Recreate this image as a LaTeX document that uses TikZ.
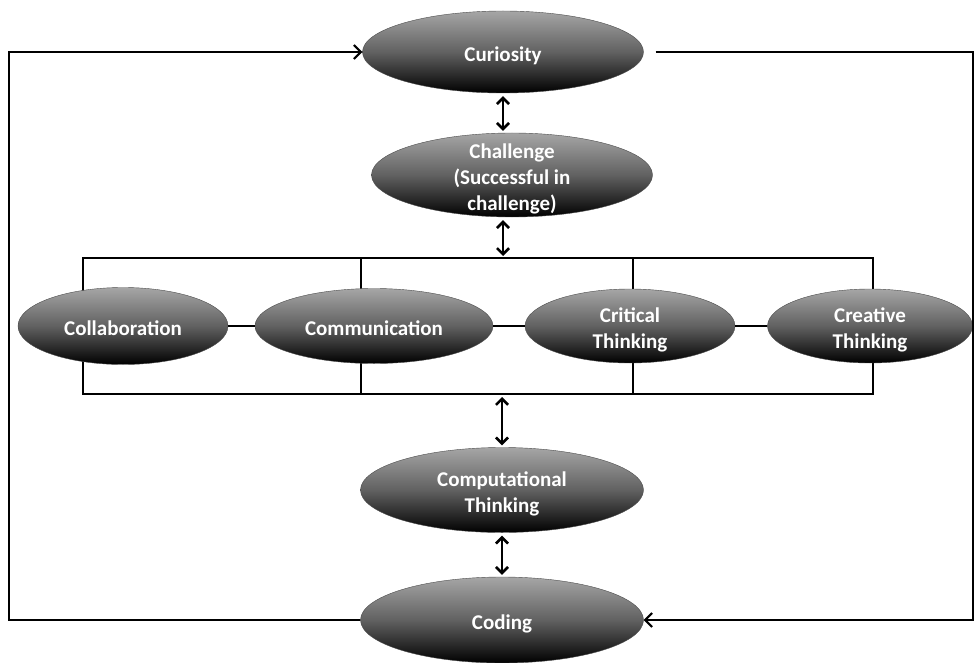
\documentclass[tikz,border=0pt]{standalone}
\usepackage{fontspec}
\setmainfont{Carlito}
\usetikzlibrary{shapes.geometric,arrows.meta}
\newcommand{\elltext}[1]{\raisebox{-9pt}[0pt][0pt]{\begin{tabular}{@{}c@{}}#1\end{tabular}}}

\begin{document}
\begin{tikzpicture}[x=1pt,y=-1pt,
    bub/.style={ellipse,draw=black!70,thin,inner sep=0pt,top color=black!35,
      bottom color=black,middle color=black!62,text=white,
      font=\bfseries\fontsize{21}{26}\selectfont},
    link/.style={line width=2pt},
    dbl/.style={line width=2.6pt,{Straight Barb[length=6pt]}-{Straight Barb[length=6pt]},
      shorten <=3pt,shorten >=2pt},
    tip/.style={link,-{Straight Barb[length=7pt]}}]
  \useasboundingbox (0,0) rectangle (974,663);
  % frame round the four skills
  \draw[link] (83,258) rectangle (873,394);
  \foreach \x in {361,633} \draw[link] (\x,258) -- (\x,394);
  \coordinate (frametop) at (503,258); \coordinate (framebot) at (502,394);
  \node[bub,minimum width=281pt,minimum height=82pt] (curiosity) at (503,52)
  {\elltext{Curiosity}};
  \node[bub,minimum width=281pt,minimum height=84pt] (challenge) at (512,175)
  {\elltext{Challenge\\(Successful in\\challenge)}};
  \node[bub,minimum width=210pt,minimum height=77pt] (collab) at (123,326)
  {\elltext{Collaboration}};
  \node[bub,minimum width=238pt,minimum height=75pt] (comm) at (374,326)
  {\elltext{Communication}};
  \node[bub,minimum width=210pt,minimum height=74pt] (critical) at (630,326)
  {\elltext{Critical\\Thinking}};
  \node[bub,minimum width=205pt,minimum height=74pt] (creative) at (870,326)
  {\elltext{Creative\\Thinking}};
  \node[bub,minimum width=283pt,minimum height=85pt] (comput) at (502,490)
  {\elltext{Computational\\Thinking}};
  \node[bub,minimum width=283pt,minimum height=86pt] (coding) at (502,620)
  {\elltext{Coding}};
  \draw[link] (collab) -- (comm); \draw[link] (comm) -- (critical);
  \draw[link] (critical) -- (creative);
  \draw[dbl] (curiosity.south) -- (curiosity.south |- challenge.north);
  \draw[dbl] (frametop |- challenge.south) -- (frametop);
  \draw[dbl] (framebot) -- (comput.north); \draw[dbl] (comput) -- (coding);
  % feedback loops
  \draw[tip] (coding.west) -- (9,620) |- (curiosity.west);
  \draw[tip,shorten <=12pt] (curiosity.east) -- (973,52) |- (coding.east);
\end{tikzpicture}
\end{document}
